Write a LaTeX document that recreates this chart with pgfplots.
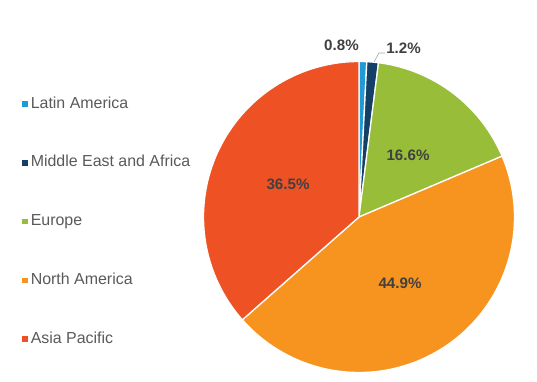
\documentclass[border=0pt]{standalone}
\usepackage{fontspec}
\setmainfont{Liberation Sans}
\usepackage{pgfplots}
\usepackage{pgfplotstable}
\pgfplotsset{compat=1.18}
\definecolor{cLA}{HTML}{1E9BD7}
\definecolor{cMEA}{HTML}{143F66}
\definecolor{cEU}{HTML}{98BD38}
\definecolor{cNA}{HTML}{F6941F}
\definecolor{cAP}{HTML}{EE5224}
\definecolor{lbl}{HTML}{404040}
\definecolor{leg}{HTML}{595959}
\pgfplotstableread{
region value
LatinAmerica 0.8
MiddleEastAfrica 1.2
Europe 16.6
NorthAmerica 44.9
AsiaPacific 36.5
}\sharetable
\pgfplotstablegetelem{0}{value}\of\sharetable\let\vA\pgfplotsretval
\pgfplotstablegetelem{1}{value}\of\sharetable\let\vB\pgfplotsretval
\pgfplotstablegetelem{2}{value}\of\sharetable\let\vC\pgfplotsretval
\pgfplotstablegetelem{3}{value}\of\sharetable\let\vD\pgfplotsretval
\pgfplotstablegetelem{4}{value}\of\sharetable\let\vE\pgfplotsretval
\pgfmathsetmacro\aO{90}
\pgfmathsetmacro\aA{\aO-3.6*\vA}
\pgfmathsetmacro\aB{\aA-3.6*\vB}
\pgfmathsetmacro\aC{\aB-3.6*\vC}
\pgfmathsetmacro\aD{\aC-3.6*\vD}
\pgfmathsetmacro\aE{\aD-3.6*\vE}
\def\cx{359}\def\cy{165}\def\rr{155.5}
\begin{document}
\begin{tikzpicture}
\begin{axis}[
  hide axis, scale only axis,
  width=537bp, height=382bp,
  xmin=0, xmax=537, ymin=0, ymax=382,
  clip=false,
  legend cell align=left,
  legend image code/.code={\path[#1, draw=none] (0bp,-2.8bp) rectangle (5.6bp,2.8bp);},
  legend style={at={(axis cs:19,287)}, anchor=north west, draw=none, fill=none,
    font=\fontsize{16}{19}\selectfont, text=leg, row sep=44.75bp,
    nodes={inner xsep=3bp, inner ysep=0pt, text height=11bp, text depth=3bp}},
]
\addplot[fill=cLA, draw=white, line width=1.3bp, domain=\aA:\aO, samples=8, variable=\t]
  ({\cx+\rr*cos(\t)},{\cy+\rr*sin(\t)}) -- (axis cs:\cx,\cy) -- cycle;
\addlegendentry{Latin America}
\addplot[fill=cMEA, draw=white, line width=1.3bp, domain=\aB:\aA, samples=8, variable=\t]
  ({\cx+\rr*cos(\t)},{\cy+\rr*sin(\t)}) -- (axis cs:\cx,\cy) -- cycle;
\addlegendentry{Middle East and Africa}
\addplot[fill=cEU, draw=white, line width=1.3bp, domain=\aC:\aB, samples=40, variable=\t]
  ({\cx+\rr*cos(\t)},{\cy+\rr*sin(\t)}) -- (axis cs:\cx,\cy) -- cycle;
\addlegendentry{Europe}
\addplot[fill=cNA, draw=white, line width=1.3bp, domain=\aD:\aC, samples=100, variable=\t]
  ({\cx+\rr*cos(\t)},{\cy+\rr*sin(\t)}) -- (axis cs:\cx,\cy) -- cycle;
\addlegendentry{North America}
\addplot[fill=cAP, draw=white, line width=1.3bp, domain=\aE:\aD, samples=80, variable=\t]
  ({\cx+\rr*cos(\t)},{\cy+\rr*sin(\t)}) -- (axis cs:\cx,\cy) -- cycle;
\addlegendentry{Asia Pacific}
\draw[color=gray!70, line width=0.6bp] (axis cs:374,320) -- (axis cs:379,329) -- (axis cs:385,329);
\begin{scope}[every node/.style={font=\bfseries\fontsize{15.2}{18}\selectfont, text=lbl}]
\node at (axis cs:288,198) {36.5\%};
\node at (axis cs:400,99) {44.9\%};
\node at (axis cs:408,227) {16.6\%};
\node at (axis cs:341.5,337) {0.8\%};
\node at (axis cs:403.5,334) {1.2\%};
\end{scope}
\end{axis}
\pgfresetboundingbox
\path (current axis.south west) rectangle (current axis.north east);
\end{tikzpicture}
\end{document}
